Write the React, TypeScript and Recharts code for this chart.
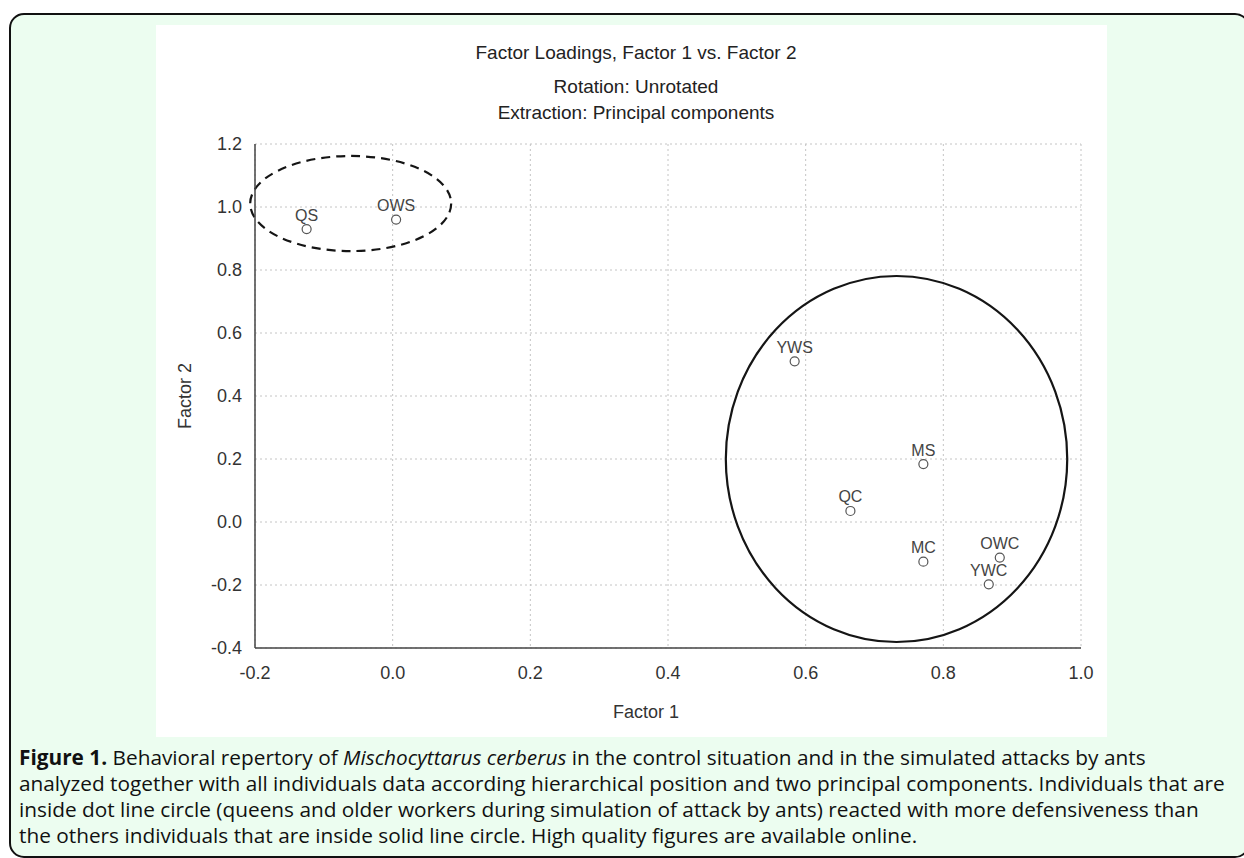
import React from 'react';
import { ScatterChart, Scatter, XAxis, YAxis, CartesianGrid, ReferenceArea, LabelList, Label } from 'recharts';

// Factor loadings
const GROUPS = ['QS', 'OWS', 'YWS', 'MS', 'QC', 'MC', 'OWC', 'YWC'];
const FACTOR_1 = [-0.125, 0.005, 0.584, 0.771, 0.665, 0.771, 0.882, 0.866];
const FACTOR_2 = [0.93, 0.96, 0.51, 0.184, 0.035, -0.126, -0.113, -0.198];

const X_TICKS = [-0.2, 0, 0.2, 0.4, 0.6, 0.8, 1.0];
const Y_TICKS = [-0.4, -0.2, 0, 0.2, 0.4, 0.6, 0.8, 1.0, 1.2];
const X_MINOR = [-0.2, -0.1, 0, 0.1, 0.2, 0.3, 0.4, 0.5, 0.6, 0.7, 0.8, 0.9, 1.0];
const Y_MINOR = [-0.4, -0.3, -0.2, -0.1, 0, 0.1, 0.2, 0.3, 0.4, 0.5, 0.6, 0.7, 0.8, 0.9, 1.0, 1.1, 1.2];

// bounding boxes of the two hand-drawn group outlines, in factor units
const DASHED_BOX = [-0.207, 0.085, 0.86, 1.162];
const SOLID_BOX = [0.484, 0.98, -0.381, 0.781];

const TITLE_LINES = ['Factor Loadings, Factor 1 vs. Factor 2', 'Rotation: Unrotated', 'Extraction: Principal components'];

const points = GROUPS.map((name, i) => ({ name, f1: FACTOR_1[i], f2: FACTOR_2[i] }));

const FONT = '"Liberation Sans", Arial, sans-serif';
const fmt = (v: number) => v.toFixed(1);

const ellipse = (dash?: string) => (p: any) => (
  <ellipse
    cx={p.x + p.width / 2}
    cy={p.y + p.height / 2}
    rx={Math.abs(p.width) / 2}
    ry={Math.abs(p.height) / 2}
    fill="none"
    stroke="#151515"
    strokeWidth={2.2}
    strokeDasharray={dash}
  />
);

const openDot = (p: any) => <circle cx={p.cx} cy={p.cy} r={4.5} fill="#fff" stroke="#555" strokeWidth={1.2} />;

const minorAxis = { type: 'number' as const, tick: false, tickSize: 4, tickLine: { stroke: '#555' }, allowDataOverflow: true };

function FactorChart() {
  return (
    <ScatterChart width={951} height={712} margin={{ top: 119, right: 26, bottom: 19, left: 19 }}>
      <CartesianGrid xAxisId="x" yAxisId="y" stroke="#c4c4c4" strokeDasharray="2 3" />
      <XAxis
        xAxisId="x"
        type="number"
        dataKey="f1"
        domain={[-0.2, 1]}
        ticks={X_TICKS}
        allowDataOverflow
        tickFormatter={fmt}
        tickLine={false}
        tickSize={0}
        tickMargin={18}
        height={70}
        axisLine={{ stroke: '#444', strokeWidth: 1.5 }}
        tick={{ fill: '#333', fontSize: 18, fontFamily: FONT }}
      >
        <Label
          content={({ viewBox }: any) => (
            <text x={viewBox.x + viewBox.width / 2 - 22} y={viewBox.y + 70} textAnchor="middle" fill="#333" fontSize={18} fontFamily={FONT}>
              Factor 1
            </text>
          )}
        />
      </XAxis>
      <YAxis
        yAxisId="y"
        type="number"
        dataKey="f2"
        domain={[-0.4, 1.2]}
        ticks={Y_TICKS}
        allowDataOverflow
        tickFormatter={fmt}
        tickLine={false}
        tickSize={0}
        tickMargin={13}
        width={80}
        axisLine={{ stroke: '#444', strokeWidth: 1.5 }}
        tick={{ fill: '#333', fontSize: 18, fontFamily: FONT }}
      >
        <Label
          content={({ viewBox }: any) => {
            const x = viewBox.x + 16;
            const y = viewBox.y + viewBox.height / 2;
            return (
              <text x={x} y={y} transform={`rotate(-90 ${x} ${y})`} textAnchor="middle" fill="#333" fontSize={18} fontFamily={FONT}>
                Factor 2
              </text>
            );
          }}
        />
      </YAxis>
      <XAxis xAxisId="xb" {...minorAxis} domain={[-0.2, 1]} ticks={X_MINOR} orientation="bottom" mirror height={0} axisLine={false} />
      <XAxis xAxisId="xt" {...minorAxis} domain={[-0.2, 1]} ticks={X_MINOR} orientation="top" mirror height={0} axisLine={{ stroke: '#444', strokeWidth: 1.5 }} />
      <YAxis yAxisId="yl" {...minorAxis} domain={[-0.4, 1.2]} ticks={Y_MINOR} orientation="left" mirror width={0} axisLine={false} />
      <YAxis yAxisId="yr" {...minorAxis} domain={[-0.4, 1.2]} ticks={Y_MINOR} orientation="right" mirror width={0} axisLine={{ stroke: '#444', strokeWidth: 1.5 }} />
      <ReferenceArea
        xAxisId="x"
        yAxisId="y"
        x1={DASHED_BOX[0]}
        x2={DASHED_BOX[1]}
        y1={DASHED_BOX[2]}
        y2={DASHED_BOX[3]}
        ifOverflow="hidden"
        shape={ellipse('9 6')}
      />
      <ReferenceArea
        xAxisId="x"
        yAxisId="y"
        x1={SOLID_BOX[0]}
        x2={SOLID_BOX[1]}
        y1={SOLID_BOX[2]}
        y2={SOLID_BOX[3]}
        ifOverflow="hidden"
        shape={ellipse()}
      />
      <Scatter xAxisId="x" yAxisId="y" data={points} shape={openDot} isAnimationActive={false}>
        <LabelList dataKey="name" position="top" offset={4} fill="#444" fontSize={16} fontFamily={FONT} />
      </Scatter>
    </ScatterChart>
  );
}

const CAPTION_FONT = '"Open Sans", Lato, sans-serif';

export default function App() {
  return (
    <div style={{ position: 'relative', width: 1244, height: 858, overflow: 'hidden' }}>
      <style>{'body{margin:0;overflow:hidden}'}</style>
      <div
        style={{
          position: 'absolute',
          left: 9,
          top: 13,
          width: 1241,
          height: 845,
          boxSizing: 'border-box',
          border: '2px solid #111',
          borderRadius: 15,
          background: '#ecfdf0',
        }}
      />
      <div style={{ position: 'absolute', left: 156, top: 25, width: 951, height: 712, background: '#fff' }}>
        {TITLE_LINES.map((t, i) => (
          <div
            key={t}
            style={{
              position: 'absolute',
              left: 0,
              width: 960,
              top: [18, 52, 78][i],
              lineHeight: '20px',
              textAlign: 'center',
              fontFamily: FONT,
              fontSize: 19,
              color: '#222',
            }}
          >
            {t}
          </div>
        ))}
        <div style={{ position: 'absolute', left: 0, top: 0 }}>
          <FactorChart />
        </div>
      </div>
      <div
        style={{
          position: 'absolute',
          left: 19,
          top: 744,
          fontFamily: CAPTION_FONT,
          fontSize: 20.8,
          lineHeight: '26px',
          color: '#111',
          whiteSpace: 'nowrap',
        }}
      >
        <div>
          <b>Figure 1.</b> Behavioral repertory of <i>Mischocyttarus cerberus</i> in the control situation and in the simulated attacks by ants
        </div>
        <div>analyzed together with all individuals data according hierarchical position and two principal components. Individuals that are</div>
        <div>inside dot line circle (queens and older workers during simulation of attack by ants) reacted with more defensiveness than</div>
        <div>the others individuals that are inside solid line circle. High quality figures are available online.</div>
      </div>
    </div>
  );
}
